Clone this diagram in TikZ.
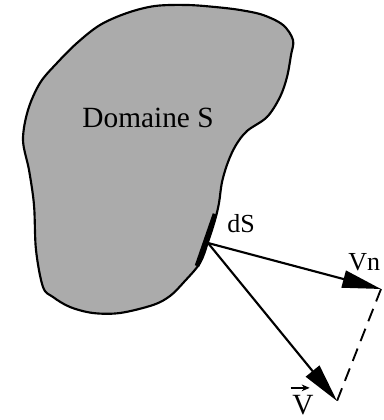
\documentclass[tikz,border=0pt]{standalone}
\usepackage{fontspec}
\setmainfont{Liberation Serif}
\usetikzlibrary{arrows.meta}

\tikzset{
  vecarrow/.style={line width=1.6pt,-{Triangle[length=29pt,width=13pt]}},
  lbl/.style={inner sep=0pt,font=\fontsize{19.5pt}{21pt}\selectfont}
}

\begin{document}
\begin{tikzpicture}[x=0.75pt,y=0.75pt,yscale=-1,xscale=1]
\useasboundingbox (0,0) rectangle (383,420);

%Shape: Domaine
\draw [line width=1.6pt, fill=black!33] plot [smooth cycle, tension=0.55] coordinates {
  (155,6) (187,5) (215,7) (240,10) (263,15) (283,25) (293,40) (291,55) (287,77) (280,97)
  (267,117) (247,131) (236,145) (228,162) (222,182) (219,203) (215,220) (208,242)
  (200,263) (184,282) (170,296) (153,305) (120,313) (93,313) (70,307) (53,297)
  (43,287) (36,250) (34,205) (29,170) (23,140) (28,110) (40,83) (57,63) (77,43)
  (100,25) (127,13) };

%Element dS
\coordinate (dsa) at (215,214);
\coordinate (dsb) at (197,266);
\draw [line width=3.5pt] (dsa) -- (dsb);

%Vectors
\coordinate (O) at (208,243);
\coordinate (Vn) at (381,289);
\coordinate (V) at (337,401);
\draw [vecarrow] (O) -- (Vn);
\draw [vecarrow] (O) -- (V);
\draw [line width=1.4pt, dash pattern=on 10pt off 6pt] (Vn) -- (V);

% Text Node
\node (dom) at (148,118) [lbl,font=\fontsize{22pt}{24pt}\selectfont] {Domaine S};
% Text Node
\node (ds) at (227,232) [lbl,anchor=base west] {dS};
% Text Node
\node (vn) at (348,270) [lbl,anchor=base west] {Vn};
% Text Node
\node (vv) at (292,414) [lbl,anchor=base west,font=\fontsize{22pt}{24pt}\selectfont] {V};
\draw [line width=1.3pt,-{Stealth[length=6pt,width=5pt]}] ([xshift=-1pt,yshift=-5pt]vv.north west) -- ([xshift=-3pt,yshift=-5pt]vv.north east);

\end{tikzpicture}
\end{document}
